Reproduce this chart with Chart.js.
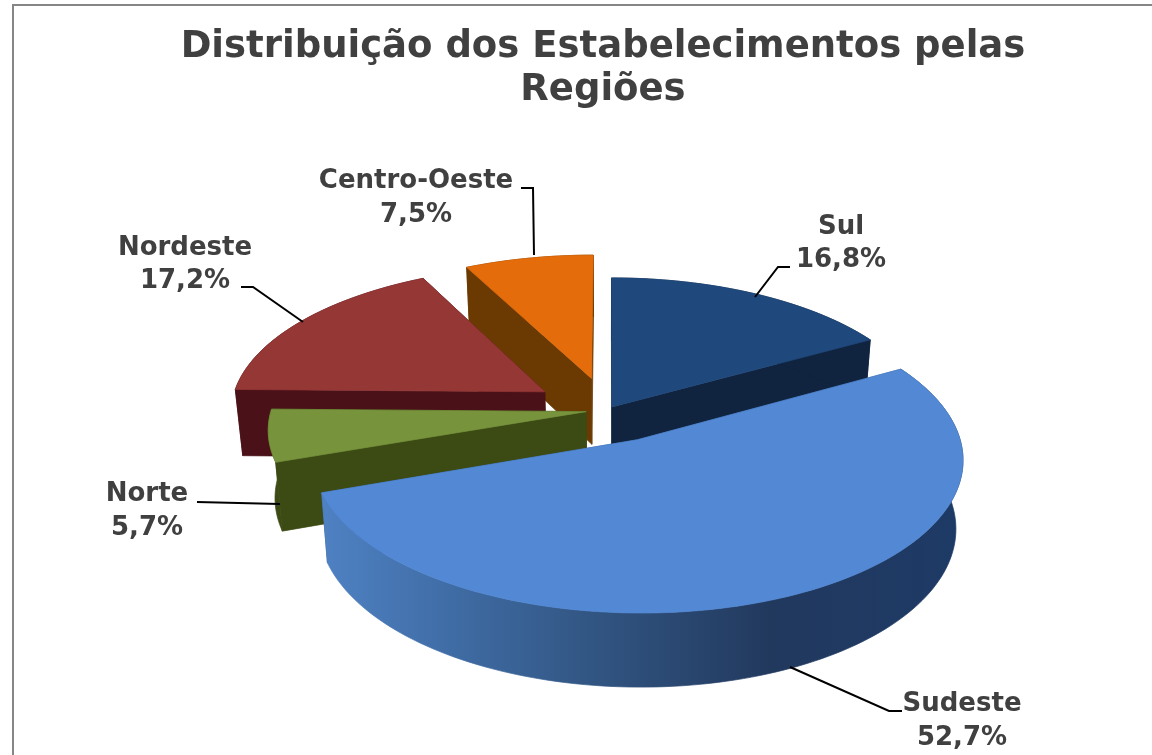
<!DOCTYPE html>
<html>
<head>
<meta charset="utf-8">
<style>
  html, body { margin: 0; padding: 0; background: #fff; }
  canvas { display: block; }
</style>
<script src="https://cdn.jsdelivr.net/npm/chart.js@4"></script>
</head>
<body>
<canvas id="pieChart" width="1152" height="755"></canvas>
<script>
// Regions, clockwise from 12 o'clock
var regions = ['Sul', 'Sudeste', 'Norte', 'Nordeste', 'Centro-Oeste'];
var shares  = [16.8, 52.7, 5.7, 17.2, 7.5];
var titleLines = ['Distribuição dos Estabelecimentos pelas', 'Regiões'];

var TOP_COLORS  = ['#1f497d', '#5288d4', '#77933c', '#953735', '#e46c0a'];
var WALL_COLORS = ['#10233f', '#2f5585', '#3c4a14', '#4a1218', '#6b3a02'];
var EXPLODE     = [2.5, 22, 7, 24, 23];   // slice offset, % of the radius
var DRAW_ORDER  = [4, 0, 3, 2, 1];        // back to front

// Camera of the fake 3D view
var VIEW = { x0: 608, y0: 410, a: 315, b: 145, k: 0.119, depth: 67, shrink: 0.98 };

var TEXT_COLOR = '#404040';
var TITLE_FONT = "bold 37px 'DejaVu Sans', sans-serif";
var LABEL_FONT = "bold 26px 'DejaVu Sans', sans-serif";
// label centre x, name baseline, value baseline
var LABEL_POS  = [[841, 234, 267], [962, 711, 745], [147, 501, 535], [185, 255, 288], [416, 188, 222]];
var LEADERS = [
  [[755, 297], [778, 267], [790, 267]],
  [[790, 667], [889, 711], [902, 711]],
  [[197, 502], [280, 504]],
  [[303, 322], [253, 287], [241, 287]],
  [[534, 255], [533, 188], [521, 188]]
];

function project(u, v, low) {
  var w = 1 - VIEW.k * v;
  var x = VIEW.x0 + VIEW.a * u / w;
  var y = VIEW.y0 + VIEW.b * v / w;
  if (low) {
    x = VIEW.x0 + (x - VIEW.x0) * VIEW.shrink;
    y = VIEW.y0 + (y - VIEW.y0) * VIEW.shrink + VIEW.depth / w;
  }
  return [x, y];
}

// outline of one slice in the pie plane: apex, then the rim
function sliceOutline(arc) {
  var p = arc.getProps(['startAngle', 'endAngle']);
  var e = arc.options.offset / 100;
  var mid = (p.startAngle + p.endAngle) / 2;
  var ou = Math.cos(mid) * e, ov = Math.sin(mid) * e;
  var pts = [[ou, ov]];
  var steps = Math.ceil((p.endAngle - p.startAngle) * 40);
  for (var i = 0; i <= steps; i++) {
    var t = p.startAngle + (p.endAngle - p.startAngle) * i / steps;
    pts.push([ou + Math.cos(t), ov + Math.sin(t)]);
  }
  return pts;
}

function fillPoly(ctx, pts, color) {
  ctx.beginPath();
  pts.forEach(function (q, i) { if (i) ctx.lineTo(q[0], q[1]); else ctx.moveTo(q[0], q[1]); });
  ctx.closePath();
  ctx.fillStyle = color;
  ctx.strokeStyle = color;
  ctx.lineWidth = 0.7;
  ctx.fill();
  ctx.stroke();
}

var pie3d = {
  id: 'pie3d',
  beforeDatasetDraw: function (chart) {
    var ctx = chart.ctx;
    var arcs = chart.getDatasetMeta(0).data;
    DRAW_ORDER.forEach(function (i) {
      var pts = sliceOutline(arcs[i]);
      var top = pts.map(function (q) { return project(q[0], q[1], false); });
      var low = pts.map(function (q) { return project(q[0], q[1], true); });
      var last = pts.length - 1;
      var wall = WALL_COLORS[i];
      // the two cut faces
      fillPoly(ctx, [top[0], top[1], low[1], low[0]], wall);
      fillPoly(ctx, [top[0], top[last], low[last], low[0]], wall);
      if (regions[i] === 'Sudeste') {
        wall = ctx.createLinearGradient(318, 0, 962, 0);
        wall.addColorStop(0, '#4f82c4');
        wall.addColorStop(0.2, '#406da6');
        wall.addColorStop(0.45, '#30537f');
        wall.addColorStop(0.7, '#22395e');
        wall.addColorStop(1, '#1d3a66');
      }
      // outer wall
      fillPoly(ctx, top.slice(1).concat(low.slice(1).reverse()), wall);
      fillPoly(ctx, top, TOP_COLORS[i]);
    });
    return false;
  },
  afterDraw: function (chart) {
    var ctx = chart.ctx;
    ctx.save();
    // frame, cut off at the right and the bottom
    ctx.strokeStyle = '#868686';
    ctx.lineWidth = 2;
    ctx.beginPath();
    ctx.moveTo(13, 755);
    ctx.lineTo(13, 5);
    ctx.lineTo(1152, 5);
    ctx.stroke();
    // leaders
    ctx.strokeStyle = '#000';
    ctx.lineWidth = 2;
    LEADERS.forEach(function (line) {
      ctx.beginPath();
      line.forEach(function (q, i) { if (i) ctx.lineTo(q[0], q[1]); else ctx.moveTo(q[0], q[1]); });
      ctx.stroke();
    });
    ctx.fillStyle = TEXT_COLOR;
    ctx.textAlign = 'center';
    ctx.textBaseline = 'alphabetic';
    ctx.font = TITLE_FONT;
    ctx.fillText(titleLines[0], 603, 57);
    ctx.fillText(titleLines[1], 603, 100);
    ctx.font = LABEL_FONT;
    regions.forEach(function (name, i) {
      ctx.fillText(name, LABEL_POS[i][0], LABEL_POS[i][1]);
      ctx.fillText(shares[i].toFixed(1).replace('.', ',') + '%', LABEL_POS[i][0], LABEL_POS[i][2]);
    });
    ctx.restore();
  }
};

new Chart(document.getElementById('pieChart'), {
  type: 'pie',
  data: {
    labels: regions,
    datasets: [{ data: shares, backgroundColor: TOP_COLORS, offset: EXPLODE, borderWidth: 0 }]
  },
  options: {
    responsive: false,
    animation: false,
    plugins: {
      legend: { display: false },
      tooltip: { enabled: false }
    }
  },
  plugins: [pie3d]
});
</script>
</body>
</html>
